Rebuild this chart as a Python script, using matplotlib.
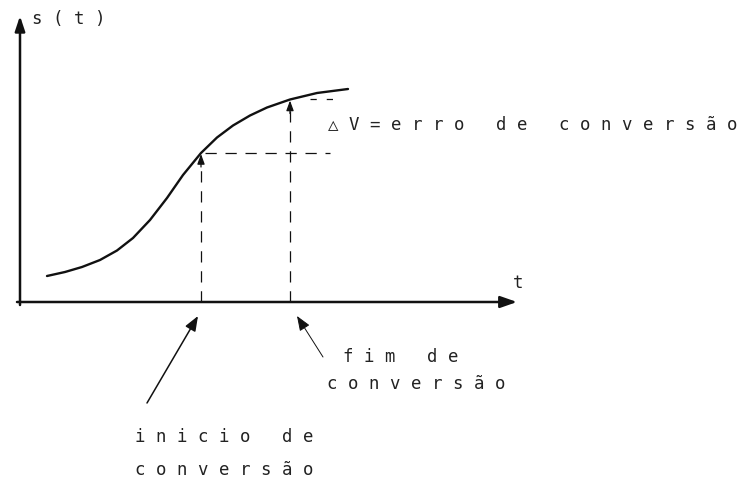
"""
    Erro de conversão: s(t) entre o início e o fim da conversão
"""

import matplotlib.pyplot as plt
import numpy as np

# curva s(t) (unidades do desenho)
t = [27, 45, 62, 80, 97, 113, 130, 147, 163, 181, 197, 213, 230, 247, 270, 297, 328]
s = [26, 30, 35, 42, 51.5, 64, 82, 104, 127, 149, 164.5, 176.5, 186.5, 194.5, 202.5, 209, 213]

t_inicio = 181  # início de conversão
t_fim = 270     # fim de conversão

rotulo_y = "s(t)"
rotulo_x = "t"
rotulo_erro = "△V=erro de conversão"
rotulo_fim = ["fim de", "conversão"]
rotulo_inicio = ["inicio de", "conversão"]


def espacar(txt):
    # letra espaçada, como na impressora matricial
    return " ".join(txt)


plt.rcParams['font.family'] = ['DejaVu Sans Mono', 'DejaVu Sans']

fig = plt.figure(figsize=(7.48, 4.86), dpi=100)
ax = fig.add_axes([0, 0, 1, 1])
ax.set_xlim(-20, 728)
ax.set_ylim(-184, 302)
ax.axis('off')

tinta = '#111111'
fonte = dict(fontsize=12.5, color='#222222', va='center', ha='left')

# eixos com setas
ax.annotate('', xy=(497, 0), xytext=(-3, 0),
            arrowprops=dict(arrowstyle='-|>,head_length=1.0,head_width=0.35',
                            lw=1.8, color=tinta, shrinkA=0, shrinkB=0))
ax.annotate('', xy=(0, 286), xytext=(0, -3),
            arrowprops=dict(arrowstyle='-|>,head_length=0.9,head_width=0.3',
                            lw=1.8, color=tinta, shrinkA=0, shrinkB=0))

# curva
ax.plot(t, s, color=tinta, lw=1.7, solid_capstyle='round', solid_joinstyle='round')

s_inicio = np.interp(t_inicio, t, s)
s_fim = np.interp(t_fim, t, s)

# linhas tracejadas
for tt, ss in [(t_inicio, s_inicio), (t_fim, s_fim)]:
    ax.plot([tt, tt], [0, ss - 12], color=tinta, lw=0.9, dashes=(9, 7))
    ax.annotate('', xy=(tt, ss - 1), xytext=(tt, ss - 14),
                arrowprops=dict(arrowstyle='-|>,head_length=0.6,head_width=0.22',
                                lw=0.9, color=tinta, shrinkA=0, shrinkB=0))
ax.plot([t_inicio + 4, 310], [s_inicio, s_inicio], color=tinta, lw=0.9, dashes=(9, 7))
ax.plot([t_fim + 20, 313], [s_fim, s_fim], color=tinta, lw=0.9, dashes=(5, 8))

# setas de indicação abaixo do eixo
ax.annotate('', xy=(t_inicio - 3, -14), xytext=(127, -101),
            arrowprops=dict(arrowstyle='-|>,head_length=0.9,head_width=0.35',
                            lw=1.1, color=tinta, shrinkA=0, shrinkB=0))
ax.annotate('', xy=(t_fim + 7, -14), xytext=(303, -55),
            arrowprops=dict(arrowstyle='-|>,head_length=0.9,head_width=0.35',
                            lw=0.7, color=tinta, shrinkA=0, shrinkB=0))

# textos
ax.text(12, 283, espacar(rotulo_y), **fonte)
ax.text(493, 19, rotulo_x, **fonte)
ax.text(308, 178, espacar(rotulo_erro), **fonte)
ax.text(323, -55, espacar(rotulo_fim[0]), **fonte)
ax.text(307, -82, espacar(rotulo_fim[1]), **fonte)
ax.text(115, -135, espacar(rotulo_inicio[0]), **fonte)
ax.text(115, -168, espacar(rotulo_inicio[1]), **fonte)

fig.savefig('out.png', dpi=100, facecolor='white')
